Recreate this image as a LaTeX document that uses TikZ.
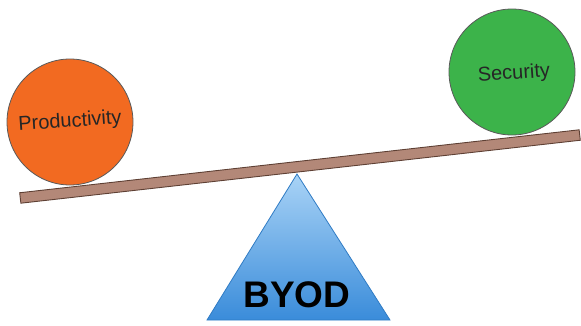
\documentclass[tikz,border=0pt]{standalone}
\usepackage{fontspec}
\setmainfont{Liberation Sans}
\definecolor{prodorange}{HTML}{F26A21}
\definecolor{secgreen}{HTML}{3CB34A}
\definecolor{ballrim}{HTML}{5A5A5A}
\definecolor{plankfill}{HTML}{B38878}
\definecolor{plankedge}{HTML}{5E4034}
\definecolor{fulcrumtop}{HTML}{A9D3F6}
\definecolor{fulcrumbot}{HTML}{3A8CDA}
\definecolor{fulcrumedge}{HTML}{2F7BC4}
\begin{document}
\begin{tikzpicture}[x=1pt,y=1pt,
  ball/.style={circle, draw=ballrim, line width=0.8pt, minimum size=126pt, inner sep=0pt},
  balltext/.style={font=\fontsize{20}{22}\selectfont, text=black!85, rotate=4},
  plank/.style={rectangle, draw=plankedge, line width=0.9pt, fill=plankfill,
    minimum width=563pt, minimum height=10.5pt, inner sep=0pt, rotate=6.42},
  fulcrum/.style={draw=fulcrumedge, line width=0.8pt, top color=fulcrumtop, bottom color=fulcrumbot}]
  \useasboundingbox (0,0) rectangle (581,325);
  % beam of the see-saw
  \node[plank] (beam) at (300,158.5) {};
  % the two weights resting on the beam
  \node[ball, fill=prodorange] (prod) at (70,203) {};
  \node[balltext] at (70,203) {Productivity};
  \node[ball, fill=secgreen] (sec) at (512,253) {};
  \node[balltext] at (514,251) {Security};
  % fulcrum
  \coordinate (apex) at (297,151);
  \coordinate (bl) at (207,5);
  \coordinate (br) at (390,5);
  \path[fulcrum] (apex) -- (br) -- (bl) -- cycle;
  \node[font=\fontsize{37}{40}\selectfont\bfseries] (byod) at (297,30) {BYOD};
\end{tikzpicture}
\end{document}
